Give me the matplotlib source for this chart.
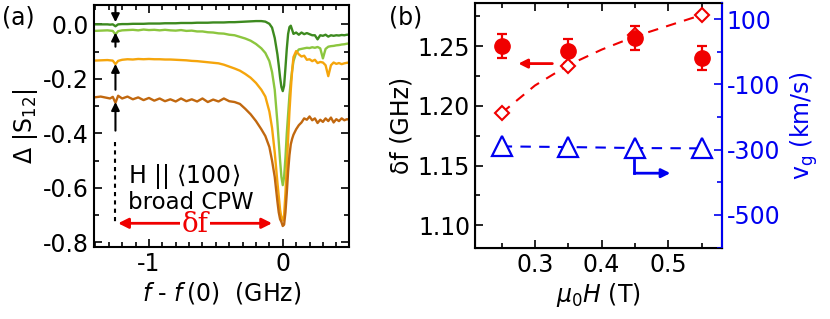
import matplotlib
matplotlib.use('Agg')
import matplotlib.pyplot as plt
from matplotlib.ticker import MultipleLocator, FixedLocator

plt.rcParams['font.family'] = ['DejaVu Sans']
plt.rcParams['mathtext.fontset'] = 'dejavusans'
plt.rcParams['axes.unicode_minus'] = False

# ---- panel (a): transmission spectra ----
freq = [-1.41, -1.36, -1.31, -1.29, -1.27, -1.25, -1.23, -1.20, -1.16, -1.12, -1.08, -1.04,
        -1.00, -0.96, -0.92, -0.88, -0.84, -0.80, -0.76, -0.72, -0.68, -0.64, -0.60, -0.56,
        -0.52, -0.48, -0.44, -0.40, -0.36, -0.32, -0.28, -0.24, -0.20, -0.16, -0.13, -0.10,
        -0.08, -0.06, -0.04, -0.03, -0.02, -0.01, 0.00, 0.01, 0.02, 0.03, 0.04, 0.05, 0.06,
        0.07, 0.08, 0.10, 0.12, 0.14, 0.16, 0.18, 0.20, 0.22, 0.24, 0.26, 0.28, 0.30, 0.32,
        0.34, 0.36, 0.38, 0.40, 0.42, 0.44, 0.46, 0.48, 0.50]

s_dark = [0.000, 0.000, 0.000, -0.001, 0.000, -0.007, 0.000, 0.001, 0.001, 0.002, 0.002, 0.002,
          0.003, 0.003, 0.003, 0.004, 0.004, 0.004, 0.005, 0.005, 0.005, 0.006, 0.006, 0.006,
          0.007, 0.007, 0.007, 0.008, 0.008, 0.009, 0.010, 0.011, 0.012, 0.012, 0.010, 0.002,
          -0.012, -0.050, -0.110, -0.150, -0.195, -0.230, -0.245, -0.225, -0.160, -0.090, -0.035,
          -0.010, -0.005, -0.020, -0.035, -0.030, -0.038, -0.030, -0.036, -0.032, -0.036, -0.040,
          -0.040, -0.055, -0.040, -0.042, -0.038, -0.045, -0.040, -0.042, -0.040, -0.041, -0.039,
          -0.040, -0.038, -0.038]

s_light = [-0.024, -0.023, -0.022, -0.023, -0.024, -0.037, -0.025, -0.022, -0.021, -0.020, -0.022,
           -0.019, -0.021, -0.020, -0.022, -0.020, -0.022, -0.023, -0.021, -0.024, -0.023, -0.026,
           -0.026, -0.029, -0.030, -0.033, -0.034, -0.038, -0.040, -0.046, -0.052, -0.060, -0.072,
           -0.088, -0.105, -0.135, -0.175, -0.240, -0.360, -0.430, -0.500, -0.560, -0.590, -0.560,
           -0.490, -0.400, -0.330, -0.260, -0.210, -0.170, -0.135, -0.105, -0.092, -0.090, -0.088,
           -0.086, -0.087, -0.084, -0.086, -0.083, -0.088, -0.125, -0.090, -0.082, -0.080, -0.079,
           -0.077, -0.076, -0.074, -0.073, -0.071, -0.070]

s_orange = [-0.133, -0.132, -0.131, -0.132, -0.133, -0.146, -0.134, -0.130, -0.128, -0.129, -0.127,
            -0.128, -0.127, -0.128, -0.128, -0.129, -0.129, -0.130, -0.131, -0.132, -0.134, -0.135,
            -0.137, -0.139, -0.141, -0.143, -0.148, -0.155, -0.162, -0.170, -0.182, -0.196, -0.215,
            -0.240, -0.265, -0.320, -0.380, -0.470, -0.580, -0.630, -0.680, -0.710, -0.720, -0.700,
            -0.620, -0.520, -0.420, -0.320, -0.240, -0.170, -0.120, -0.098, -0.110, -0.118, -0.115,
            -0.130, -0.128, -0.135, -0.130, -0.142, -0.138, -0.140, -0.150, -0.190, -0.150, -0.140,
            -0.145, -0.142, -0.146, -0.143, -0.141, -0.140]

s_brown = [-0.268, -0.265, -0.270, -0.272, -0.266, -0.288, -0.262, -0.272, -0.265, -0.275, -0.268,
           -0.278, -0.270, -0.280, -0.272, -0.282, -0.275, -0.283, -0.272, -0.282, -0.275, -0.283,
           -0.272, -0.285, -0.276, -0.283, -0.272, -0.282, -0.285, -0.292, -0.310, -0.330, -0.355,
           -0.385, -0.410, -0.450, -0.500, -0.560, -0.650, -0.690, -0.715, -0.725, -0.740, -0.735,
           -0.690, -0.620, -0.540, -0.480, -0.440, -0.420, -0.405, -0.385, -0.370, -0.360, -0.345,
           -0.350, -0.338, -0.352, -0.345, -0.362, -0.350, -0.358, -0.345, -0.355, -0.342, -0.360,
           -0.348, -0.355, -0.345, -0.352, -0.348, -0.350]

curve_colors = ['#3d8a1f', '#8cc63f', '#f5a50c', '#c1680f']

# ---- panel (b): delta f and group velocity vs field ----
field = [0.25, 0.35, 0.45, 0.55]
df_meas = [1.250, 1.246, 1.257, 1.240]
df_err = [0.010, 0.010, 0.010, 0.010]
df_calc = [1.194, 1.233, 1.259, 1.276]
vg = [-290, -292, -295, -296]

fit_field = [0.25, 0.30, 0.35, 0.40, 0.45, 0.50, 0.55]
fit_df = [1.194, 1.217, 1.234, 1.247, 1.258, 1.267, 1.276]

red = '#f00000'
blue = '#0000f0'
fs = 17

fig = plt.figure(figsize=(8.3, 3.19), dpi=100)
ax1 = fig.add_axes([0.1133, 0.2257, 0.3072, 0.7586])
ax2 = fig.add_axes([0.5723, 0.2226, 0.2972, 0.7680])

for ys, c in zip([s_dark, s_light, s_orange, s_brown], curve_colors):
    ax1.plot(freq, ys, color=c, lw=1.7)

ax1.set_xlim(-1.41, 0.495)
ax1.set_ylim(-0.817, 0.071)
ax1.xaxis.set_major_locator(FixedLocator([-1, 0]))
ax1.xaxis.set_minor_locator(MultipleLocator(0.1))
ax1.yaxis.set_major_locator(MultipleLocator(0.2))
ax1.yaxis.set_minor_locator(MultipleLocator(0.1))
ax1.yaxis.set_major_formatter(plt.FuncFormatter(lambda v, p: f'{v:.1f}'.replace('-0.0', '0.0')))
ax1.set_xticklabels(['-1', '0'])
ax1.set_xlabel(r'$f$ - $f\,$(0)  (GHz)', fontsize=fs, labelpad=3)
ax1.set_ylabel(r'$\Delta$ |S$_{12}$|', fontsize=fs, labelpad=2)

# markers of the small side feature
kw = dict(arrowstyle='-|>', color='k', lw=1.5, mutation_scale=12, shrinkA=0, shrinkB=0)
ax1.annotate('', xy=(-1.25, 0.008), xytext=(-1.25, 0.071), arrowprops=kw)
ax1.annotate('', xy=(-1.25, -0.030), xytext=(-1.25, -0.082), arrowprops=kw)
ax1.annotate('', xy=(-1.25, -0.145), xytext=(-1.25, -0.240), arrowprops=kw)
ax1.annotate('', xy=(-1.25, -0.285), xytext=(-1.25, -0.390), arrowprops=kw)
ax1.plot([-1.25, -1.25], [-0.43, -0.73], color='k', lw=1.5, ls=(0, (2, 2)))

ax1.annotate('', xy=(-0.08, -0.73), xytext=(-1.23, -0.73),
             arrowprops=dict(arrowstyle='<|-|>', color=red, lw=2, mutation_scale=15,
                             shrinkA=0, shrinkB=0))
ax1.text(-0.655, -0.735, r'δf', color=red, fontsize=20, ha='center', va='center',
         family='DejaVu Serif', bbox=dict(fc='white', ec='none', pad=1))
ax1.text(-1.16, -0.558, r'H || $\langle$100$\rangle$', fontsize=17, ha='left', va='center')
ax1.text(-1.16, -0.652, 'broad CPW', fontsize=16.5, ha='left', va='center')

# panel (b)
ax2.plot(fit_field, fit_df, color=red, lw=1.5, ls=(0, (5, 4)))
ax2.errorbar(field, df_meas, yerr=df_err, fmt='o', color=red, ms=11, elinewidth=1.6,
             capsize=3.5, capthick=1.6)
ax2.plot(field, df_calc, 'D', mfc='white', mec=red, ms=7.5, mew=1.5)
ax2.set_xlim(0.21, 0.58)
ax2.set_ylim(1.081, 1.286)
ax2.xaxis.set_major_locator(MultipleLocator(0.1))
ax2.xaxis.set_minor_locator(MultipleLocator(0.05))
ax2.yaxis.set_major_locator(MultipleLocator(0.05))
ax2.yaxis.set_minor_locator(MultipleLocator(0.025))
ax2.yaxis.set_major_formatter(plt.FuncFormatter(lambda v, p: f'{v:.2f}'))
ax2.set_xlabel(r'$\mu_0H$ (T)', fontsize=fs, labelpad=3)
ax2.set_ylabel(r'δf (GHz)', fontsize=fs, labelpad=3)

ax2.annotate('', xy=(0.275, 1.2353), xytext=(0.326, 1.2353),
             arrowprops=dict(arrowstyle='-|>', color=red, lw=2, mutation_scale=13,
                             shrinkA=0, shrinkB=0))

ax3 = ax2.twinx()
ax3.plot(field, vg, '^', mfc='white', mec=blue, ms=14, mew=1.6, ls=(0, (5, 4)),
         color=blue, lw=1.5)
ax3.set_ylim(-601, 149)
ax3.yaxis.set_major_locator(MultipleLocator(200, offset=100))
ax3.yaxis.set_minor_locator(MultipleLocator(100))
ax3.set_ylabel(r'v$_{\rm g}$ (km/s)', fontsize=fs, color=blue, labelpad=6)
ax3.annotate('', xy=(0.503, -372), xytext=(0.449, -372),
             arrowprops=dict(arrowstyle='-|>', color=blue, lw=2, mutation_scale=13,
                             shrinkA=0, shrinkB=0))
ax3.plot([0.449, 0.449], [-331, -372], color=blue, lw=2)

for ax in (ax1, ax2):
    for s in ax.spines.values():
        s.set_linewidth(1.5)
    ax.tick_params(which='both', direction='in', top=True, labelsize=fs, width=1.2)
    ax.tick_params(which='major', length=6)
    ax.tick_params(which='minor', length=3.5)
ax1.tick_params(which='both', right=True)
ax3.spines['right'].set_color(blue)
ax3.spines['right'].set_linewidth(1.5)
ax3.tick_params(which='both', direction='in', colors=blue, labelsize=fs, width=1.2)
ax3.tick_params(which='major', length=6)
ax3.tick_params(which='minor', length=3.5)

fig.text(0.003, 0.945, '(a)', fontsize=fs, ha='left', va='center')
fig.text(0.469, 0.945, '(b)', fontsize=fs, ha='left', va='center')

fig.savefig('out.png', dpi=100)
